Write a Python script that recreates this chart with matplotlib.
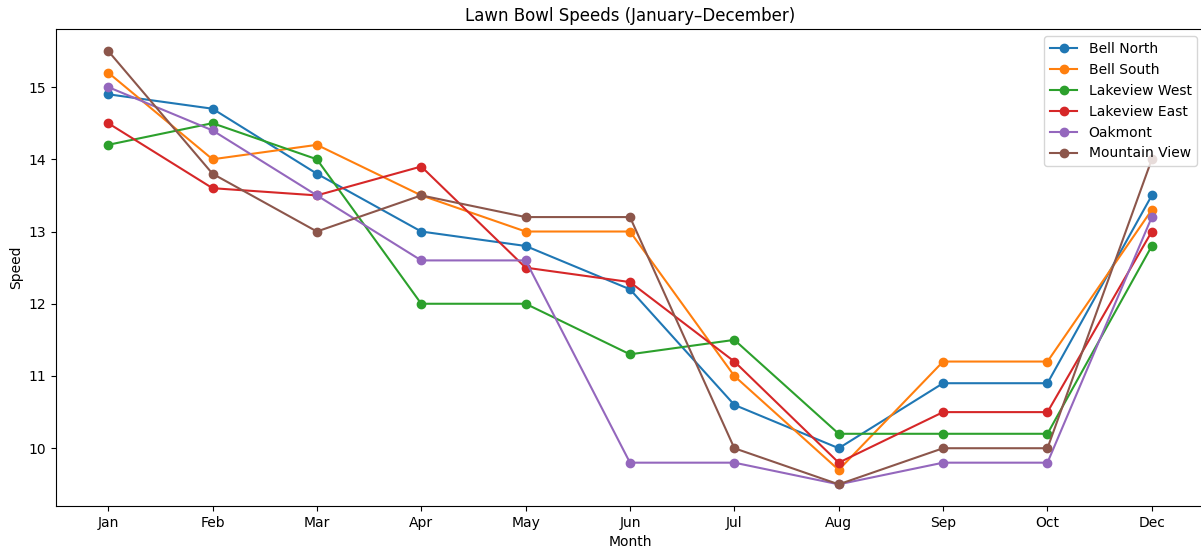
import matplotlib
matplotlib.use("Agg")
import matplotlib.pyplot as plt

# ==============================
# Data
# ==============================
months = ["Jan", "Feb", "Mar", "Apr", "May", "Jun", "Jul", "Aug", "Sep", "Oct", "Dec"]

bell_north = [14.9, 14.7, 13.8, 13.0, 12.8, 12.2, 10.6, 10.0, 10.9, 10.9, 13.5]
bell_south = [15.2, 14.0, 14.2, 13.5, 13.0, 13.0, 11.0, 9.7, 11.2, 11.2, 13.3]
lakeview_west = [14.2, 14.5, 14.0, 12.0, 12.0, 11.3, 11.5, 10.2, 10.2, 10.2, 12.8]
lakeview_east = [14.5, 13.6, 13.5, 13.9, 12.5, 12.3, 11.2, 9.8, 10.5, 10.5, 13.0]
oakmont = [15.0, 14.4, 13.5, 12.6, 12.6, 9.8, 9.8, 9.5, 9.8, 9.8, 13.2]
mountain_view = [15.5, 13.8, 13.0, 13.5, 13.2, 13.2, 10.0, 9.5, 10.0, 10.0, 14.0]

series = [
    ("Bell North", bell_north),
    ("Bell South", bell_south),
    ("Lakeview West", lakeview_west),
    ("Lakeview East", lakeview_east),
    ("Oakmont", oakmont),
    ("Mountain View", mountain_view),
]

# ==============================
# Plot
# ==============================
fig, ax = plt.subplots(figsize=(12.01, 5.52), dpi=100)

for name, vals in series:
    ax.plot(months, vals, marker="o", label=name)

ax.set_title("Lawn Bowl Speeds (January\u2013December)")
ax.set_xlabel("Month")
ax.set_ylabel("Speed")
ax.legend(loc="upper right")

# the original is cropped slightly on the right edge
plt.subplots_adjust(left=0.0466, right=1.0025, top=0.947, bottom=0.0833)
plt.savefig("out.png")
